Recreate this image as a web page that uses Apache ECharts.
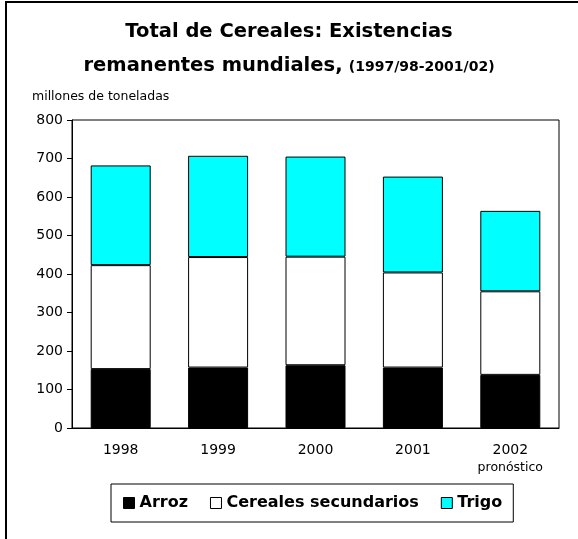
<!DOCTYPE html>
<html>
<head>
<meta charset="utf-8">
<script src="https://cdn.jsdelivr.net/npm/echarts@6/dist/echarts.min.js"></script>
<style>
  html, body {margin: 0; padding: 0; background: #fff;}
  #chart {width: 578px; height: 539px;}
</style>
</head>
<body>
<div id="chart"></div>
<script>
// datos (millones de toneladas)
const years = ['1998', '1999', '2000', '2001', '2002'];
const arroz = [153, 157, 163, 157, 138];
const secundarios = [270, 287, 282, 247, 217];
const trigo = [259, 263, 260, 249, 209];
const yTicks = {min: 0, max: 800, interval: 100};

const font = 'DejaVu Sans';

const chart = echarts.init(document.getElementById('chart'));

function barSerie(name, color, data) {
  return {
    name: name,
    type: 'bar',
    stack: 'total',
    barWidth: 60,
    itemStyle: {color: color, borderColor: '#000', borderWidth: 1},
    emphasis: {disabled: true},
    data: data
  };
}

const option = {
  animation: false,
  backgroundColor: '#fff',
  title: {
    text: '{a|Total de Cereales: Existencias}\n{a|remanentes mundiales,} {b|(1997/98-2001/02)}',
    left: 'center',
    top: 10,
    padding: 5,
    textStyle: {
      fontFamily: font,
      rich: {
        a: {fontFamily: font, fontSize: 19.5, fontWeight: 'bold', color: '#000', lineHeight: 34},
        b: {fontFamily: font, fontSize: 14, fontWeight: 'bold', color: '#000', lineHeight: 34, padding: [3, 0, 0, 0]}
      }
    }
  },
  graphic: [
    {
      type: 'rect',
      shape: {x: 6, y: 2, width: 640, height: 640},
      style: {fill: null, stroke: '#000', lineWidth: 2},
      silent: true
    },
    {
      type: 'text',
      left: 32,
      top: 90,
      style: {text: 'millones de toneladas', fontFamily: font, fontSize: 12.5, fill: '#000'}
    }
  ],
  legend: {
    left: 111,
    top: 484,
    padding: [11, 11, 11, 12],
    itemGap: 22,
    itemWidth: 11,
    itemHeight: 11,
    borderColor: '#000',
    borderWidth: 1,
    selectedMode: false,
    icon: 'rect',
    textStyle: {fontFamily: font, fontSize: 16, fontWeight: 'bold', color: '#000'},
    itemStyle: {borderColor: '#000', borderWidth: 1},
    data: ['Arroz', 'Cereales secundarios', 'Trigo']
  },
  grid: {left: 72, right: 19, top: 120, bottom: 111, show: true, borderColor: '#000', borderWidth: 1},
  xAxis: {
    type: 'category',
    data: years,
    axisLine: {lineStyle: {color: '#000', width: 1}},
    axisTick: {length: 5, lineStyle: {color: '#000'}},
    axisLabel: {
      margin: 14,
      formatter: function (v) {
        if (v === '2002') return '{y|' + v + '}\n{p|pronóstico}';
        return '{y|' + v + '}';
      },
      rich: {
        y: {fontFamily: font, fontSize: 14, color: '#000', lineHeight: 17},
        p: {fontFamily: font, fontSize: 12.5, color: '#000', lineHeight: 17}
      }
    }
  },
  yAxis: {
    type: 'value',
    min: yTicks.min,
    max: yTicks.max,
    interval: yTicks.interval,
    axisLine: {show: true, lineStyle: {color: '#000', width: 1}},
    axisTick: {show: true, length: 5, lineStyle: {color: '#000'}},
    axisLabel: {margin: 9, fontFamily: font, fontSize: 14, color: '#000'},
    splitLine: {show: false}
  },
  series: [
    barSerie('Arroz', '#000000', arroz),
    barSerie('Cereales secundarios', '#ffffff', secundarios),
    barSerie('Trigo', '#00ffff', trigo)
  ]
};

chart.setOption(option);
</script>
</body>
</html>
